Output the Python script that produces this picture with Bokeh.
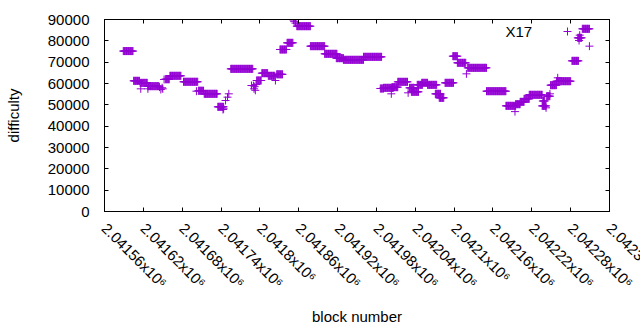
from bokeh.plotting import figure
from bokeh.models import Range1d, FixedTicker, LinearAxis, Legend, LegendItem, Label
from bokeh.embed import file_html
from bokeh.resources import INLINE

# ---- data ----
# runs of equal difficulty: first block, last block, difficulty
seg_start = [2041589, 2041605, 2041615, 2041627, 2041654, 2041661, 2041682, 2041705,
             2041714, 2041735, 2041755, 2041795, 2041803, 2041813, 2041826, 2041831,
             2041842, 2041857, 2041878, 2041900, 2041918, 2041929, 2041960, 2041986,
             2041991, 2042004, 2042013, 2042031, 2042034, 2042043, 2042050, 2042059,
             2042071, 2042077, 2042086, 2042098, 2042105, 2042121, 2042150, 2042180,
             2042195, 2042202, 2042208, 2042216, 2042236, 2042237, 2042243, 2042249,
             2042258, 2042282, 2042291, 2042298]
seg_end = [2041604, 2041614, 2041626, 2041644, 2041660, 2041678, 2041704, 2041713,
           2041734, 2041744, 2041789, 2041802, 2041812, 2041823, 2041835, 2041841,
           2041851, 2041878, 2041900, 2041919, 2041929, 2041960, 2041988, 2041991,
           2042006, 2042013, 2042028, 2042038, 2042045, 2042051, 2042059, 2042073,
           2042079, 2042084, 2042099, 2042105, 2042118, 2042150, 2042180, 2042195,
           2042202, 2042208, 2042216, 2042236, 2042242, 2042240, 2042248, 2042258,
           2042280, 2042292, 2042297, 2042309]
seg_difficulty = [75200, 61250, 60300, 58750, 62000, 63600, 60800, 56600,
                  55160, 49070, 66870, 61400, 64840, 63600, 64310, 75940,
                  79060, 86870, 77500, 73910, 71880, 71100, 72500, 57660,
                  57970, 58280, 60780, 57970, 56100, 59370, 60310, 59370,
                  55160, 53280, 60310, 72810, 69690, 67340, 56400, 49530,
                  50310, 51400, 52810, 54690, 49500, 51800, 54060, 59220,
                  61090, 70620, 81400, 85630]

# isolated blocks
single_block = [2041616, 2041627, 2041645, 2041647, 2041649, 2041650, 2041652, 2041702,
                2041743, 2041744, 2041747, 2041750, 2041752, 2041787, 2041790, 2041791,
                2041792, 2041793, 2041794, 2041824, 2041852, 2041853, 2041855, 2042003,
                2042029, 2042119, 2042194, 2042242, 2042248, 2042260, 2042293, 2042294,
                2042309]
single_difficulty = [57500, 57500, 58300, 57200, 58000, 57500, 61880, 56400,
                     47800, 48140, 52030, 53590, 55160, 59060, 59000, 57500,
                     58500, 56800, 59500, 61400, 89700, 89000, 88300, 55160,
                     55630, 64530, 46830, 48600, 55160, 62660, 80160, 82660,
                     77500]

x_ticks = [2041560, 2041620, 2041680, 2041740, 2041800, 2041860, 2041920,
           2041980, 2042040, 2042100, 2042160, 2042220, 2042280, 2042340]
x_tick_labels = ["2.04156x10\u2076", "2.04162x10\u2076", "2.04168x10\u2076", "2.04174x10\u2076",
                 "2.0418x10\u2076", "2.04186x10\u2076", "2.04192x10\u2076", "2.04198x10\u2076",
                 "2.04204x10\u2076", "2.0421x10\u2076", "2.04216x10\u2076", "2.04222x10\u2076",
                 "2.04228x10\u2076", "2.04234x10\u2076"]
y_ticks = [0, 10000, 20000, 30000, 40000, 50000, 60000, 70000, 80000, 90000]
series_name = "X17"

# ---- expand runs into one point per block ----
blocks, diffs = [], []
for s, e, d in zip(seg_start, seg_end, seg_difficulty):
    for b in range(s, e + 1):
        blocks.append(b)
        diffs.append(d)
blocks += single_block
diffs += single_difficulty

FONT = "Liberation Sans"
PURPLE = "#9400D3"

# the canvas runs past the right edge of the window so the last tick labels are cut there
p = figure(frame_width=505, frame_height=192, output_backend="svg", toolbar_location=None,
           x_range=Range1d(x_ticks[0], x_ticks[-1]), y_range=Range1d(y_ticks[0], y_ticks[-1]),
           min_border_left=104, min_border_right=100, min_border_top=19, min_border_bottom=119)
p.xgrid.visible = False
p.ygrid.visible = False
p.outline_line_color = "black"
p.outline_line_width = 1
p.background_fill_color = "white"
p.border_fill_color = "white"

r = p.scatter(blocks, diffs, marker="cross", size=8, line_color=PURPLE, line_width=1)

xa = p.xaxis[0]
xa.ticker = FixedTicker(ticks=x_ticks)
xa.major_label_overrides = {t: l for t, l in zip(x_ticks, x_tick_labels)}
xa.major_label_orientation = -0.7853981634
xa.axis_label = "block number"

ya = p.yaxis[0]
ya.ticker = FixedTicker(ticks=y_ticks)
ya.axis_label = "difficulty"

for ax in (xa, ya):
    ax.major_tick_in = 4
    ax.major_tick_out = 0
    ax.minor_tick_line_color = None
    ax.axis_line_color = "black"
    ax.major_tick_line_color = "black"
    ax.major_label_text_font = FONT
    ax.major_label_text_font_size = "15px"
    ax.major_label_text_color = "black"
    ax.axis_label_text_font = FONT
    ax.axis_label_text_font_size = "15px"
    ax.axis_label_text_font_style = "normal"
    ax.axis_label_text_color = "black"

ya.major_label_standoff = 15
ya.axis_label_standoff = 23
xa.major_label_standoff = 14
xa.axis_label_standoff = 8

# mirrored ticks on top and right (no labels)
top = LinearAxis(ticker=FixedTicker(ticks=x_ticks), major_label_text_color=None,
                 major_label_text_font_size="0px",
                 major_tick_in=4, major_tick_out=0, minor_tick_line_color=None,
                 major_label_standoff=0, axis_line_color="black")
right = LinearAxis(ticker=FixedTicker(ticks=y_ticks), major_label_text_color=None,
                   major_label_text_font_size="0px",
                   major_tick_in=4, major_tick_out=0, minor_tick_line_color=None,
                   major_label_standoff=0, axis_line_color="black")
p.add_layout(top, "above")
p.add_layout(right, "right")

# key (gnuplot style): title text, then the sample point to its right
key_text = Label(x=401, y=180, x_units="screen", y_units="screen", text=series_name,
                 text_align="left", text_baseline="middle",
                 text_font=FONT, text_font_size="15px", text_color="black")
p.add_layout(key_text)
legend = Legend(items=[LegendItem(label=series_name, renderers=[r])],
                location=(453, 170), padding=0, margin=0, spacing=0,
                glyph_width=20, glyph_height=20, label_height=20, label_standoff=0,
                label_text_color=None, label_text_font_size="15px",
                background_fill_alpha=0, border_line_alpha=0)
p.add_layout(legend)

open("out.html", "w").write(file_html(p, INLINE))
